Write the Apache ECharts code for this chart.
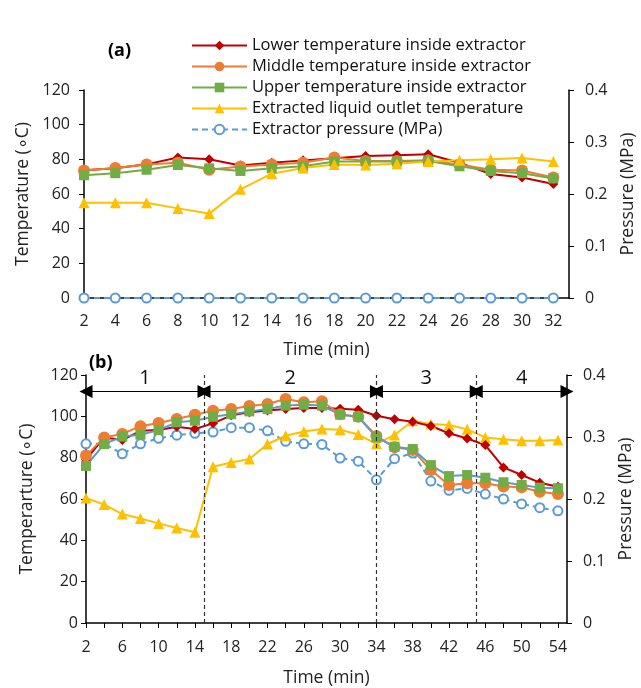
<!DOCTYPE html>
<html>
<head>
<meta charset="utf-8">
<script src="https://cdn.jsdelivr.net/npm/echarts@6/dist/echarts.min.js"></script>
<style>
html,body{margin:0;padding:0;background:#fff;}
#chart{width:641px;height:688px;}
</style>
</head>
<body>
<div id="chart"></div>
<script>
// panel (a)
var timeA = [2,4,6,8,10,12,14,16,18,20,22,24,26,28,30,32];
var lowerA  = [73.7,74.8,77.1,81,80,76.5,78,79.4,80.6,81.9,82.3,82.9,78,71.5,69.5,65.8];
var middleA = [73.5,75,77,78,74,75.8,77,78,81,79,79,79.4,77,74,73.5,69.5];
var upperA  = [70.8,72,74,76.7,74.8,73.3,74.8,76,78.7,78.7,78.7,79,76,73.3,72,69];
var outletA = [55,55,55,51.7,48.7,62.7,71.7,75,77,76.7,77.5,78.7,79.4,80,80.8,78.8];
var pressA  = [0,0,0,0,0,0,0,0,0,0,0,0,0,0,0,0];

// panel (b)
var timeB = [2,4,6,8,10,12,14,16,18,20,22,24,26,28,30,32,34,36,38,40,42,44,46,48,50,52,54];
var lowerB  = [79,89.8,88.5,93,93.4,95,93.9,96.6,100.5,102,102.8,103.5,104,104,103.7,103.2,100.3,98.6,97.4,95.3,91.8,89.3,86.1,75.3,71.6,67.9,65.9];
var middleB = [81,89.8,91.5,95.2,96.8,98.7,100.8,102.7,103.5,105,106,108.4,106.8,107.3,101,99.8,90.5,85,83.7,74,66.8,67.6,67.6,66,65.7,63.5,62.4];
var upperB  = [76,86.6,90.2,91.1,93.4,97.1,97.9,99.8,101,102.4,103.5,105.2,105.6,105.2,100.8,99.8,89.8,85.3,84.2,76.4,71.1,71.6,70.3,68.1,66.8,65.5,65.2];
var outletB = [60.5,57.3,52.7,50.6,48.2,46,43.9,75.6,77.7,79.4,86.6,90.6,92.7,93.9,93.5,91.2,86.7,91,97.9,96.3,95.8,93.7,89.8,88.9,88.2,88.2,88.5];
var pressB  = [0.289,0.289,0.273,0.289,0.298,0.303,0.306,0.308,0.315,0.315,0.310,0.293,0.289,0.288,0.266,0.261,0.231,0.265,0.274,0.229,0.214,0.217,0.208,0.200,0.192,0.186,0.181];

// stages in (b)
var stageBounds = [2,15,34,45,55];
var stageNames  = ['1','2','3','4'];
var stageArrowY = 112;

var names = ['Lower temperature inside extractor','Middle temperature inside extractor',
  'Upper temperature inside extractor','Extracted liquid outlet temperature','Extractor pressure (MPa)'];
var RED='#C00000', ORANGE='#ED7D31', GREEN='#70AD47', YELLOW='#FFC000', BLUE='#5B9BD5';
var FONT = 'Open Sans';

function pairs(xs, ys){
  var out = [];
  for(var i=0;i<xs.length;i++) out.push([xs[i], ys[i]]);
  return out;
}

function xAxisOpt(grid, max, step){
  return {
    type:'value', gridIndex:grid, min:2, max:max, interval:2,
    name:'Time (min)', nameLocation:'middle', nameGap: grid==0 ? 43 : 46,
    nameTextStyle:{fontSize:17.5, color:'#222', fontFamily:FONT},
    axisLine:{show:true, onZero:false, lineStyle:{color:'#000', width:1.5}},
    axisTick:{show:true, length:5, lineStyle:{color:'#000'}},
    splitLine:{show:false},
    axisLabel:{fontSize:16, color:'#222', fontFamily:FONT, margin: grid==0 ? 15 : 16,
      showMaxLabel:false,
      formatter:function(v){ return ((v-2)%step===0 && v<=max-1) ? v : ''; }}
  };
}
function yLeft(grid, name){
  return {
    type:'value', gridIndex:grid, min:0, max:120, interval:20,
    name:name, nameLocation:'middle', nameGap:50, nameRotate:90,
    nameTextStyle:{fontSize:17.5, color:'#222', fontFamily:FONT},
    axisLine:{show:true, lineStyle:{color:'#000', width:1.5}},
    axisTick:{show:true, length:5, lineStyle:{color:'#000'}},
    splitLine:{show:false},
    axisLabel:{fontSize:16, color:'#222', fontFamily:FONT, margin: grid==0 ? 14 : 8}
  };
}
function yRight(grid){
  return {
    type:'value', gridIndex:grid, position:'right', min:0, max:0.4, interval:0.1,
    name:'Pressure (MPa)', nameLocation:'middle', nameGap:50, nameRotate:90,
    nameTextStyle:{fontSize:17.5, color:'#222', fontFamily:FONT},
    axisLine:{show:true, lineStyle:{color:'#000', width:1.5}},
    axisTick:{show:true, length:5, lineStyle:{color:'#000'}},
    splitLine:{show:false},
    axisLabel:{fontSize:16, color:'#222', fontFamily:FONT, margin:16}
  };
}

function lineSeries(name, xi, yi, data, color, symbol, size, extra){
  var s = {
    name:name, type:'line', xAxisIndex:xi, yAxisIndex:yi, data:data,
    symbol:symbol, symbolSize:size, showSymbol:true,
    lineStyle:{color:color, width:2}, itemStyle:{color:color}, animation:false
  };
  for(var k in extra) s[k] = extra[k];
  return s;
}

var series = [
  lineSeries(names[0],0,0,pairs(timeA,lowerA),RED,'diamond',10,{}),
  lineSeries(names[1],0,0,pairs(timeA,middleA),ORANGE,'circle',12,{}),
  lineSeries(names[2],0,0,pairs(timeA,upperA),GREEN,'rect',10,{}),
  lineSeries(names[3],0,0,pairs(timeA,outletA),YELLOW,'triangle',11,{}),
  lineSeries(names[4],0,1,pairs(timeA,pressA),BLUE,'emptyCircle',9,
    {lineStyle:{color:BLUE,width:2,type:[6,4]}, itemStyle:{color:BLUE,borderWidth:1.5}}),

  lineSeries(names[4],1,3,pairs(timeB,pressB),BLUE,'emptyCircle',9,
    {lineStyle:{color:BLUE,width:2,type:[6,4]}, itemStyle:{color:BLUE,borderWidth:1.5}}),
  lineSeries(names[3],1,2,pairs(timeB,outletB),YELLOW,'triangle',11,{}),
  lineSeries(names[0],1,2,pairs(timeB,lowerB),RED,'diamond',10,{}),
  lineSeries(names[1],1,2,pairs(timeB,middleB),ORANGE,'circle',12,{}),
  lineSeries(names[2],1,2,pairs(timeB,upperB),GREEN,'rect',10,
    {lineStyle:{color:BLUE,width:2}})
];

// stage dividers and arrows
var vLines = [], arrows = [];
for(var i=1;i<stageBounds.length-1;i++) vLines.push({xAxis:stageBounds[i]});
for(var j=0;j<stageNames.length;j++){
  arrows.push([
    {coord:[stageBounds[j],stageArrowY], name:stageNames[j]},
    {coord:[stageBounds[j+1],stageArrowY]}
  ]);
}
series.push({
  type:'line', xAxisIndex:1, yAxisIndex:2, data:[], silent:true, animation:false,
  markLine:{
    silent:true, animation:false, symbol:'none',
    lineStyle:{color:'#333', type:[4,3], width:1.2},
    label:{show:false},
    data:vLines
  }
});
series.push({
  type:'line', xAxisIndex:1, yAxisIndex:2, data:[], silent:true, animation:false,
  markLine:{
    silent:true, animation:false, symbol:['triangle','triangle'], symbolSize:[13,13],
    lineStyle:{color:'#000', type:'solid', width:1.2},
    itemStyle:{color:'#000'},
    label:{show:true, position:'insideMiddleTop', formatter:'{b}', distance:3,
      fontSize:20, color:'#111', fontFamily:FONT},
    data:arrows
  }
});

var option = {
  backgroundColor:'#fff',
  animation:false,
  textStyle:{fontFamily:FONT},
  grid:[
    {left:84, right:72, top:90, height:208, outerBoundsMode:'none', containLabel:false},
    {left:86, right:74, top:375, height:248, outerBoundsMode:'none', containLabel:false}
  ],
  legend:{
    data:names, orient:'vertical', left:186, top:32,
    itemWidth:55, itemHeight:12, itemGap:4,
    textStyle:{fontSize:16.5, color:'#111', fontFamily:FONT}
  },
  graphic:[
    {type:'text', left:108, top:42, style:{text:'(a)', font:'bold 18px "Open Sans"', fill:'#000'}},
    {type:'text', left:89, top:354, style:{text:'(b)', font:'bold 18px "Open Sans"', fill:'#000'}}
  ],
  xAxis:[ xAxisOpt(0,33,2), xAxisOpt(1,55,4) ],
  yAxis:[ yLeft(0,'Temperature (\u2218C)'), yRight(0), yLeft(1,'Temperarture (\u2218C)'), yRight(1) ],
  series:series
};

echarts.init(document.getElementById('chart')).setOption(option);
</script>
</body>
</html>
